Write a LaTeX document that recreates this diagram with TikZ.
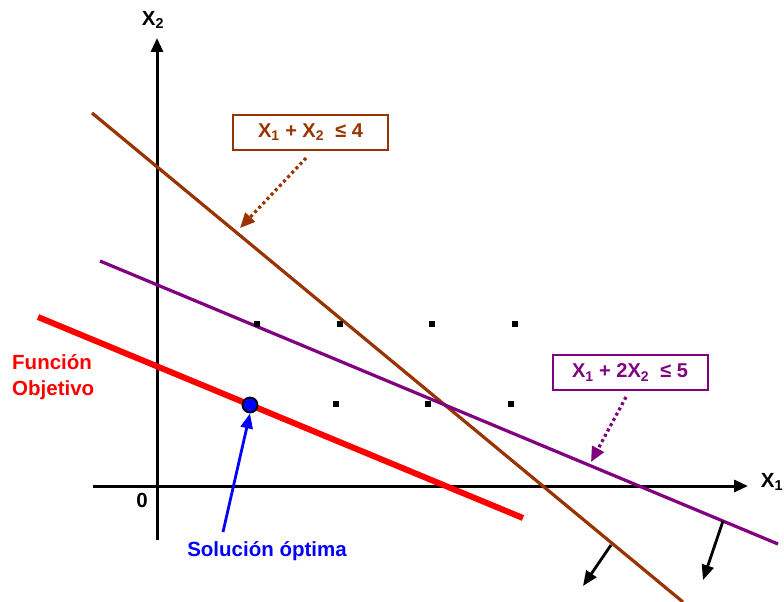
\documentclass[tikz,border=0pt]{standalone}
\usepackage{fontspec}
\setmainfont{Liberation Sans}
\usetikzlibrary{arrows.meta}
\definecolor{brn}{RGB}{153,51,0}
\definecolor{prp}{RGB}{128,0,128}
\tikzset{
  lbl/.style={font=\fontsize{20.5}{26}\selectfont\bfseries, inner sep=1pt},
  cbox/.style={draw, line width=2pt, minimum width=155pt, minimum height=35pt, inner sep=0pt, font=\fontsize{20}{24}\selectfont\bfseries, fill=white},
  axis/.style={line width=3pt, -{Triangle[length=14pt,width=12pt]}},
  ptr/.style={line width=2.8pt, -{Triangle[length=15pt,width=12pt]}},
  dotptr/.style={line width=3.2pt, dash pattern=on 3pt off 3pt, -{Triangle[length=15pt,width=13pt]}},
  sq/.style={fill=black, minimum size=5.5pt, inner sep=0pt},
}
\begin{document}
\begin{tikzpicture}[x=1pt,y=-1pt]
\useasboundingbox (0,0) rectangle (784,602);
% axes
\coordinate (yb) at (157,540);
\coordinate (yt) at (157,38);
\coordinate (xl) at (93,486);
\coordinate (xr) at (748,486);
\draw[axis] (yb) -- (yt);
\draw[axis] (xl) -- (xr);
\node[lbl] (x2) at (153,20) {X\textsubscript{2}};
\node[lbl] (x1) at (772,482) {X\textsubscript{1}};
\node[lbl] (zero) at (142,500) {0};
% lines
\coordinate (b1) at (92,113);
\coordinate (b2) at (683,602);
\draw[brn, line width=3.2pt] (b1) -- (b2);
\coordinate (p1) at (100,261);
\coordinate (p2) at (778,544);
\draw[prp, line width=3.2pt] (p1) -- (p2);
\coordinate (r1) at (38,317);
\coordinate (r2) at (523,518);
\draw[red, line width=6pt] (r1) -- (r2);
% grid dots
\foreach \i/\x/\y in {a/257/324,b/340/324,c/432/324,d/515/324,e/336/404,f/428/404,g/511/404}
  \node[sq] (d\i) at (\x,\y) {};
% optimum
\node[circle, draw=black, fill=blue, line width=1.8pt, minimum size=15pt, inner sep=0pt] (opt) at (250,405) {};
% constraint boxes
\node[cbox, draw=brn, text=brn] (c1) at (310.5,132) {X\textsubscript{1} + X\textsubscript{2} \ ≤ 4};
\node[cbox, draw=prp, text=prp] (c2) at (630,372.5) {X\textsubscript{1} + 2X\textsubscript{2} \ ≤ 5};
\coordinate (c1s) at (306,158);
\coordinate (c1e) at (240,228);
\draw[dotptr, brn] (c1s) -- (c1e);
\coordinate (c2s) at (626,397);
\coordinate (c2e) at (591,462);
\draw[dotptr, prp] (c2s) -- (c2e);
% direction arrows
\coordinate (a1s) at (611,545);
\coordinate (a1e) at (583,586);
\draw[ptr] (a1s) -- (a1e);
\coordinate (a2s) at (723,521);
\coordinate (a2e) at (703,580);
\draw[ptr] (a2s) -- (a2e);
% labels
\node[lbl, text=red, align=left, anchor=west] (fo) at (11,377) {Función\\Objetivo};
\node[lbl, text=blue] (sol) at (267,551) {Solución óptima};
\coordinate (bs) at (223,532);
\draw[ptr, blue] (bs) -- (opt.south);
\end{tikzpicture}
\end{document}
